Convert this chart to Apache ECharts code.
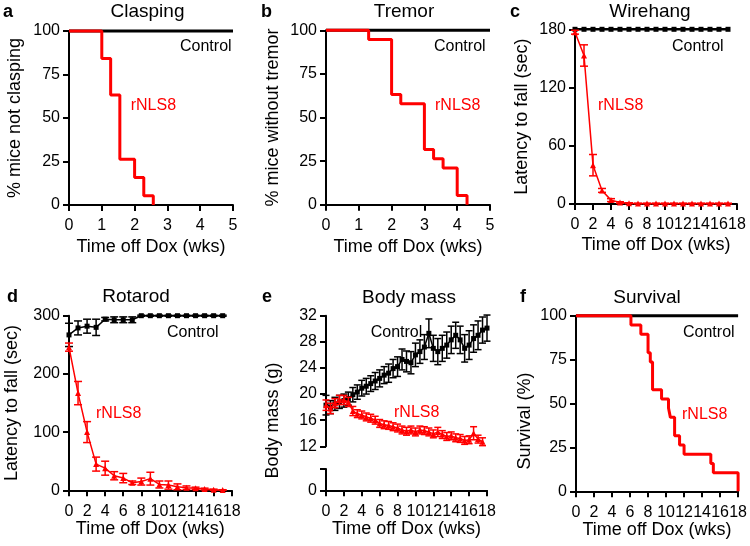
<!DOCTYPE html>
<html>
<head>
<meta charset="utf-8">
<script src="https://cdn.jsdelivr.net/npm/echarts@6/dist/echarts.min.js"></script>
<style>html,body{margin:0;padding:0;background:#fff;}#chart{width:750px;height:546px;}</style>
</head>
<body>
<div id="chart"></div>
<script>
// ---------- DATA ----------
// a: Clasping (Kaplan-Meier, rNLS8)
const claspWeeks = [0, 1.0, 1.27, 1.55, 2.0, 2.28, 2.57];
const claspRNLS8 = [100, 84.2, 63.2, 26.3, 15.8, 5.3, 0];
const claspControlWeeks = [0, 5];
const claspControl = [100, 100];
// b: Tremor
const tremorWeeks = [0, 1.3, 2.0, 2.28, 3.0, 3.28, 3.57, 4.0, 4.3];
const tremorRNLS8 = [100, 94.7, 63.2, 57.9, 31.6, 26.3, 21.1, 5.3, 0];
const tremorControlWeeks = [0, 5];
const tremorControl = [100, 100];
// c: Wirehang
const wireWeeks = [0,1,2,3,4,5,6,7,8,9,10,11,12,13,14,15,16,17];
const wireControl = [180,180,180,180,180,180,180,180,180,180,180,180,180,180,180,180,180,180];
const wireRNLS8 = [177,153,40,14,4,1.5,0.8,0.5,0.5,0.5,0.5,0.5,0.5,0.5,0.5,0.5,0.5,0.5];
const wireRNLS8Err = [2,11,11,2,1.5,0.8,0.5,0.3,0.3,0.3,0.3,0.3,0.3,0.3,0.3,0.3,0.3,0.3];
// d: Rotarod
const rotaWeeks = [0,1,2,3,4,5,6,7,8,9,10,11,12,13,14,15,16,17];
const rotaControl = [267,279,282,280,294,293,293,293,300,300,300,300,300,300,300,300,300,300];
const rotaControlErr = [20,12,12,14,3,5,5,5,1,1,1,1,1,1,1,1,1,1];
const rotaRNLS8 = [246,167,100,45,38,25,21,13,15,20,10,9,6,4.5,3.4,2.2,1,0.5];
const rotaRNLS8Err = [7,20,18,12,12,7,8,3,6,11,6,7,5,3,2,1.5,1,0.5];
// e: Body mass
const massWeeksControl = [0,0.5,1,1.5,2,2.5,3,3.5,4,4.5,5,5.5,6,6.5,7,7.5,8,8.5,9,9.5,10,10.5,11,11.5,12,12.5,13,13.5,14,14.5,15,15.5,16,16.5,17,17.5,18];
const massControl = [18.3,18.0,18.5,18.8,19.0,19.3,19.9,20.3,20.9,21.2,21.6,22.0,22.4,22.9,23.2,23.9,24.2,25.3,25.0,24.8,26.0,26.5,27.2,29.3,27.0,26.5,27.0,27.5,28.3,29.0,28.3,27.0,27.5,28.5,29.0,29.8,30.1];
const massControlErr = [1.5,1.0,1.0,1.0,1.0,1.0,1.1,1.1,1.2,1.2,1.2,1.3,1.3,1.3,1.4,1.4,1.5,1.6,1.6,1.7,1.8,1.8,1.9,2.2,2.0,2.0,2.0,2.0,2.1,2.0,2.1,2.1,2.2,2.1,2.2,2.0,2.0];
const massWeeksRNLS8 = [0,0.5,1,1.5,2,2.5,3,3.5,4,4.5,5,5.5,6,6.5,7,7.5,8,8.5,9,9.5,10,10.5,11,11.5,12,12.5,13,13.5,14,14.5,15,15.5,16,16.5,17,17.5];
const massRNLS8 = [18.3,17.8,18.6,19.1,19.1,18.8,17.4,17.0,16.8,16.5,16.3,16.0,15.5,15.3,15.2,15.0,14.8,14.5,14.3,14.5,14.2,14.5,14.4,14.2,13.9,14.2,13.8,13.5,13.6,13.3,13.2,12.9,13.0,14.0,13.1,12.7];
const massRNLS8Err = [0.8,0.8,0.7,0.7,0.7,0.7,0.7,0.6,0.6,0.6,0.6,0.6,0.6,0.6,0.6,0.6,0.6,0.6,0.6,0.6,0.6,0.6,0.6,0.6,0.6,0.7,0.6,0.6,0.6,0.6,0.6,0.6,0.6,1.0,0.6,0.6];
// f: Survival
const survWeeks = [0, 6.1, 7.2, 8.0, 8.25, 8.5, 9.5, 10.27, 10.48, 10.95, 11.5, 12.0, 14.97, 15.25, 18];
const survRNLS8 = [100, 94.7, 89.5, 78.9, 73.7, 57.9, 52.6, 47.4, 42.1, 31.6, 26.3, 21.1, 15.8, 10.5, 0];
const survControlWeeks = [0, 18];
const survControl = [100, 100];

// ---------- STYLE ----------
const FONT = '"Liberation Sans", Arial, Helvetica, sans-serif';
const RED = '#ff0000';
const BLACK = '#000000';
const zip = (xs, ys) => xs.map((x, i) => [x, ys[i]]);
const zip3 = (xs, ys, es) => xs.map((x, i) => [x, ys[i], es[i]]);

function errRender(color, capW, lw) {
  return function (params, api) {
    const x = api.value(0), y = api.value(1), e = api.value(2);
    const t = api.coord([x, y + e]), b = api.coord([x, y - e]);
    const h = capW / 2;
    const st = { stroke: color, lineWidth: lw, fill: null };
    return { type: 'group', children: [
      { type: 'line', shape: { x1: t[0], y1: t[1], x2: b[0], y2: b[1] }, style: st },
      { type: 'line', shape: { x1: t[0] - h, y1: t[1], x2: t[0] + h, y2: t[1] }, style: st },
      { type: 'line', shape: { x1: b[0] - h, y1: b[1], x2: b[0] + h, y2: b[1] }, style: st }
    ]};
  };
}
function errSeries(idx, data, color, capW, lw) {
  return { type: 'custom', xAxisIndex: idx, yAxisIndex: idx, data: data, renderItem: errRender(color, capW, lw || 1.5), clip: false, silent: true, z: 3 };
}

const axisLineS = { show: true, onZero: false, lineStyle: { color: BLACK, width: 2 } };
const axisTickS = { show: true, inside: false, length: 6, lineStyle: { color: BLACK, width: 2 } };
function xAx(gi, max, interval, nameGap, extra) {
  return Object.assign({
    type: 'value', gridIndex: gi, min: 0, max: max, interval: interval,
    axisLine: axisLineS, axisTick: axisTickS, splitLine: { show: false },
    axisLabel: { color: BLACK, fontSize: 16, fontFamily: FONT, margin: 13, hideOverlap: false },
    name: 'Time off Dox (wks)', nameLocation: 'middle', nameGap: nameGap,
    nameTextStyle: { color: BLACK, fontSize: 18, fontFamily: FONT }
  }, extra || {});
}
function yAx(gi, min, max, interval, name, nameGap, extra) {
  return Object.assign({
    type: 'value', gridIndex: gi, min: min, max: max, interval: interval,
    axisLine: axisLineS, axisTick: axisTickS, splitLine: { show: false },
    axisLabel: { color: BLACK, fontSize: 16, fontFamily: FONT, margin: 9 },
    name: name, nameLocation: 'middle', nameGap: nameGap,
    nameTextStyle: { color: BLACK, fontSize: 18, fontFamily: FONT }
  }, extra || {});
}

function txt(x, y, text, size, color, opts) {
  return Object.assign({ type: 'text', x: x, y: y, silent: true,
    style: { text: text, fontSize: size, fontFamily: FONT, fill: color, align: (opts && opts.align) || 'left', verticalAlign: 'middle', fontWeight: (opts && opts.bold) ? 'bold' : 'normal' } },
    (opts && opts.rotation) ? { rotation: opts.rotation } : {});
}

const option = {
  animation: false,
  backgroundColor: '#fff',
  grid: [
    { left: 69, top: 31, width: 164, height: 174 },
    { left: 326, top: 30.3, width: 164, height: 174.4 },
    { left: 575, top: 29.3, width: 162, height: 174.7 },
    { left: 69, top: 315.7, width: 162.7, height: 174.6 },
    { left: 326, top: 315.7, width: 161, height: 130.6 },
    { left: 326, top: 469, width: 161, height: 21.3 },
    { left: 576, top: 315.7, width: 163, height: 175.6 }
  ],
  xAxis: [
    xAx(0, 5, 1, 33),
    xAx(1, 5, 1, 33),
    xAx(2, 18, 2, 32),
    xAx(3, 18, 2, 29),
    xAx(4, 18, 2, 30, { show: false }),
    xAx(5, 18, 2, 30),
    xAx(6, 18, 2, 28)
  ],
  yAxis: [
    yAx(0, 0, 100, 25, '% mice not clasping', 45),
    yAx(1, 0, 100, 25, '% mice without tremor', 44),
    yAx(2, 0, 180, 60, 'Latency to fall (sec)', 44),
    yAx(3, 0, 300, 100, 'Latency to fall (sec)', 48),
    yAx(4, 12, 32, 4, '', 44),
    yAx(5, 0, 3, 3, '', 44, { axisLabel: { color: BLACK, fontSize: 16, fontFamily: FONT, margin: 9, formatter: v => (v === 0 ? '0' : '') } }),
    yAx(6, 0, 100, 25, '', 42)
  ],
  graphic: [
    // panel letters
    txt(3, 12.4, 'a', 18, BLACK, { bold: true }),
    txt(261, 12.4, 'b', 18, BLACK, { bold: true }),
    txt(510, 12.4, 'c', 18, BLACK, { bold: true }),
    txt(7, 296.8, 'd', 18, BLACK, { bold: true }),
    txt(262, 297, 'e', 18, BLACK, { bold: true }),
    txt(520, 296.8, 'f', 18, BLACK, { bold: true }),
    // titles
    txt(147.5, 11.7, 'Clasping', 19, BLACK, { align: 'center' }),
    txt(404, 11.7, 'Tremor', 19, BLACK, { align: 'center' }),
    txt(650, 12.2, 'Wirehang', 19, BLACK, { align: 'center' }),
    txt(136, 297, 'Rotarod', 19, BLACK, { align: 'center' }),
    txt(409, 297.3, 'Body mass', 19, BLACK, { align: 'center' }),
    txt(647, 297.3, 'Survival', 19, BLACK, { align: 'center' }),
    // group labels
    txt(180, 46.7, 'Control', 16, BLACK), txt(130.7, 106, 'rNLS8', 16, RED),
    txt(434, 46.7, 'Control', 16, BLACK), txt(435, 106, 'rNLS8', 16, RED),
    txt(672, 46.7, 'Control', 16, BLACK), txt(598, 106, 'rNLS8', 16, RED),
    txt(167, 333, 'Control', 16, BLACK), txt(96, 413.7, 'rNLS8', 16, RED),
    txt(370.7, 333, 'Control', 16, BLACK), txt(394, 413, 'rNLS8', 16, RED),
    txt(683, 333, 'Control', 16, BLACK), txt(682, 414.7, 'rNLS8', 16, RED),
    // y-axis names placed off-centre in the reference
    txt(273, 420.5, 'Body mass (g)', 18, BLACK, { align: 'center', rotation: Math.PI / 2 }),
    txt(525, 421, 'Survival (%)', 18, BLACK, { align: 'center', rotation: Math.PI / 2 })
  ],
  series: [
    // a
    { type: 'line', xAxisIndex: 0, yAxisIndex: 0, data: zip(claspControlWeeks, claspControl), symbol: 'none', lineStyle: { color: BLACK, width: 3 }, clip: false, z: 2 },
    { type: 'line', xAxisIndex: 0, yAxisIndex: 0, data: zip(claspWeeks, claspRNLS8), step: 'end', symbol: 'none', lineStyle: { color: RED, width: 3 }, clip: false, z: 4 },
    // b
    { type: 'line', xAxisIndex: 1, yAxisIndex: 1, data: zip(tremorControlWeeks, tremorControl), symbol: 'none', lineStyle: { color: BLACK, width: 3 }, clip: false, z: 2 },
    { type: 'line', xAxisIndex: 1, yAxisIndex: 1, data: zip(tremorWeeks, tremorRNLS8), step: 'end', symbol: 'none', lineStyle: { color: RED, width: 3 }, clip: false, z: 4 },
    // c
    { type: 'line', xAxisIndex: 2, yAxisIndex: 2, data: zip(wireWeeks, wireControl), symbol: 'rect', symbolSize: 5, itemStyle: { color: BLACK }, lineStyle: { color: BLACK, width: 2.5 }, clip: false, z: 2 },
    errSeries(2, zip3(wireWeeks, wireRNLS8, wireRNLS8Err), RED, 8, 1.5),
    { type: 'line', xAxisIndex: 2, yAxisIndex: 2, data: zip(wireWeeks, wireRNLS8), symbol: 'triangle', symbolSize: 6, itemStyle: { color: RED }, lineStyle: { color: RED, width: 1.5 }, clip: false, z: 4 },
    // d
    errSeries(3, zip3(rotaWeeks, rotaControl, rotaControlErr), BLACK, 8, 1.5),
    { type: 'line', xAxisIndex: 3, yAxisIndex: 3, data: zip(rotaWeeks, rotaControl), symbol: 'rect', symbolSize: 5, itemStyle: { color: BLACK }, lineStyle: { color: BLACK, width: 1.5 }, clip: false, z: 2 },
    errSeries(3, zip3(rotaWeeks, rotaRNLS8, rotaRNLS8Err), RED, 8, 1.5),
    { type: 'line', xAxisIndex: 3, yAxisIndex: 3, data: zip(rotaWeeks, rotaRNLS8), symbol: 'triangle', symbolSize: 6, itemStyle: { color: RED }, lineStyle: { color: RED, width: 1.5 }, clip: false, z: 4 },
    // e
    errSeries(4, zip3(massWeeksControl, massControl, massControlErr), BLACK, 7, 1.5),
    { type: 'line', xAxisIndex: 4, yAxisIndex: 4, data: zip(massWeeksControl, massControl), symbol: 'rect', symbolSize: 5, itemStyle: { color: BLACK }, lineStyle: { color: BLACK, width: 1.5 }, clip: false, z: 2 },
    errSeries(4, zip3(massWeeksRNLS8, massRNLS8, massRNLS8Err), RED, 7, 1.5),
    { type: 'line', xAxisIndex: 4, yAxisIndex: 4, data: zip(massWeeksRNLS8, massRNLS8), symbol: 'triangle', symbolSize: 6, itemStyle: { color: RED }, lineStyle: { color: RED, width: 1.5 }, clip: false, z: 4 },
    { type: 'line', xAxisIndex: 5, yAxisIndex: 5, data: [], symbol: 'none' },
    // f
    { type: 'line', xAxisIndex: 6, yAxisIndex: 6, data: zip(survControlWeeks, survControl), symbol: 'none', lineStyle: { color: BLACK, width: 3 }, clip: false, z: 2 },
    { type: 'line', xAxisIndex: 6, yAxisIndex: 6, data: zip(survWeeks, survRNLS8), step: 'end', symbol: 'none', lineStyle: { color: RED, width: 3 }, clip: false, z: 4 }
  ]
};
const chart = echarts.init(document.getElementById('chart'), null, { renderer: 'canvas' });
chart.setOption(option);
</script>
</body>
</html>
